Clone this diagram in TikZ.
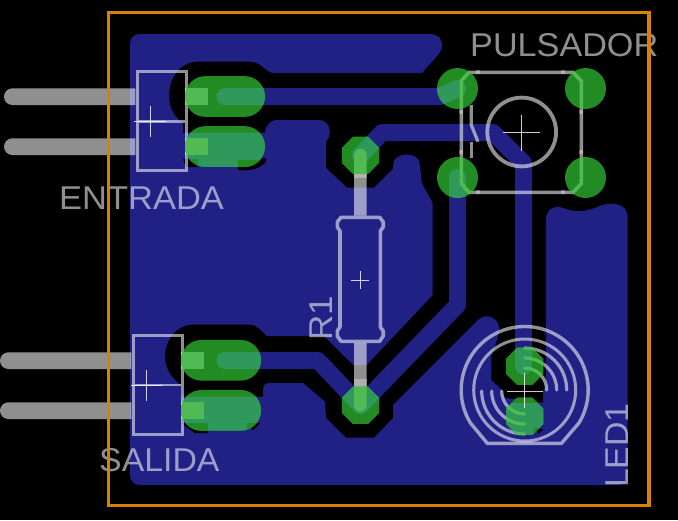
\documentclass[tikz,border=0pt]{standalone}
\usepackage{fontspec}
\usepackage{graphicx}
\setmainfont{Liberation Sans}
\definecolor{pourblue}{RGB}{33,33,133}
\definecolor{padgreen}{RGB}{35,139,35}
\definecolor{padteal}{RGB}{46,153,90}
\definecolor{silkgreen}{RGB}{82,186,82}
\definecolor{boardorange}{RGB}{217,128,0}
\tikzset{
  silkop/.style={opacity=.56},
  trk/.style={line width=17pt,line cap=round,line join=round},
  thk/.style={line width=3.6pt,line join=miter},
  crossmark/.style={line width=.9pt},
  silktext/.style={inner sep=0pt,font=\fontsize{33}{33}\selectfont,text=white,text opacity=.56},
}
% copper: #1 = colour
\newcommand{\copperall}[1]{%
  \fill[#1] (140,34) -- (430,34) .. controls (442,34) and (446,46) .. (438,55)
    -- (422,73) -- (273,73) .. controls (265,72) and (262,62) .. (250,61.7) -- (197,61.7)
    .. controls (180,62) and (169,78) .. (169,96) .. controls (169,108) and (175,118) .. (183,123)
    -- (183,132.7) -- (265,132.7) .. controls (266,125) and (270,120) .. (277,120) -- (318,120)
    .. controls (332,120) and (332,136) .. (326,141.7) -- (326,168) -- (347,187.7) -- (374,187.7) -- (393,169)
    -- (393,165) .. controls (393,151) and (420,151) .. (420,165) -- (421.7,183) -- (432.7,203)
    -- (432.7,295) -- (366.7,365) -- (353.3,365) -- (324,336) -- (267,336)
    .. controls (262,332) and (258,325) .. (250,324.5) -- (193,324.5)
    .. controls (176,325) and (165,340) .. (165,356.7) .. controls (165,368) and (171,378) .. (181,385)
    -- (181,396.7) -- (263,396.7) -- (263,390) .. controls (263,386) and (265,383) .. (269,383) -- (303,383)
    -- (325,401.7) -- (326,418) -- (346,437.7) -- (374,437.7) -- (393,418) -- (393,405) -- (478,320)
    .. controls (486,312) and (500,318) .. (499,330) -- (497,340) -- (491.3,356) -- (491.3,380) -- (500,388)
    -- (505,398) -- (543,402.7) -- (543,392) -- (545.7,386) -- (546,220)
    .. controls (546,206) and (558,205) .. (566,209) .. controls (576,212) and (586,212) .. (597,207)
    .. controls (610,201) and (627.7,202) .. (627.7,218) -- (627.7,475) .. controls (627.7,482) and (624,485) .. (618,485)
    -- (140,485) .. controls (134,485) and (130,481) .. (130,475) -- (130,44) .. controls (130,38) and (134,34) .. (140,34) -- cycle;
  \draw[#1,trk] (225,96.7) -- (440,96.7) -- (457.5,88.5);
  \draw[#1,trk] (225,360.5) -- (318,360.5) -- (360.5,405.3);
  \draw[#1,trk] (360.5,155.3) -- (382,132.5) -- (493,132.5) -- (523.5,163) -- (523.5,366.3);
  \draw[#1,trk] (457.5,177.5) -- (457.5,305) -- (360.5,405.3);
}
\newcommand{\silkall}[2]{% #1 colour, #2 extra options
  \begin{scope}[draw=#1,fill=#1,#2]
  % ENTRADA connector
  \fill (12.35,88.3) arc (-90:-270:8.35) -- (135.3,105) -- (135.3,88.3) -- cycle;
  \fill (12.35,138.3) arc (-90:-270:8.35) -- (135.3,155) -- (135.3,138.3) -- cycle;
  \fill (185,88.3) rectangle (208.3,105);
  \fill (185,138.3) rectangle (208.3,155);
  \draw[thk] (137.4,71.3) rectangle (186.6,170.6);
  \draw[line width=2.6pt] (139.2,121.7) -- (184.8,121.7);
  % SALIDA connector
  \fill (8.35,352.3) arc (-90:-270:8.35) -- (131.3,369) -- (131.3,352.3) -- cycle;
  \fill (8.35,402.3) arc (-90:-270:8.35) -- (131.3,419) -- (131.3,402.3) -- cycle;
  \fill (181,352.3) rectangle (204,369);
  \fill (181,402.3) rectangle (204,419);
  \draw[thk] (133.4,335.4) rectangle (182.6,434.6);
  \draw[line width=2.6pt] (135.2,385) -- (180.8,385);
  % R1
  \fill (354,215.5) -- (354,155) arc (180:360:6.35) -- (366.7,215.5) -- cycle;
  \fill (354,343) -- (354,405.3) arc (180:0:6.35) -- (366.7,343) -- cycle;
  \draw[thk,line join=round] (340,231) -- (337.3,227) -- (337.3,222) -- (341,217.3) -- (379.7,217.3) -- (383.2,222) -- (383.2,227) -- (380.3,231)
    -- (380.3,327) -- (383.2,331) -- (383.2,336) -- (379.7,341.3) -- (341,341.3) -- (337.3,336) -- (337.3,331) -- (340,327) -- cycle;
  % PULSADOR
  \draw[thk] (469,72.4) -- (573,72.4) -- (581.4,81) -- (581.4,183.5) -- (573,192.4) -- (469,192.4) -- (461.3,183.5) -- (461.3,81) -- cycle;
  \draw[line width=3.8pt] (521.7,132) circle (34.4);
  \draw[line width=3.2pt] (471.3,105) -- (471.3,125) -- (478,141.7);
  \draw[line width=3.2pt] (471.3,141.7) -- (471.3,158);
  % LED1
  \draw[thk,line width=3.4pt] (487.3,443.3) -- (561.5,443.3) -- (579,422.9) arc (31.2:-211.2:63.5) -- cycle;
  \draw[line width=3pt] (524.7,390) circle (51);
  \draw[line width=3.2pt,line cap=round] (524.7,348) arc (-90:0:42);
  \draw[line width=3.2pt,line cap=round] (524.7,358) arc (-90:0:32);
  \draw[line width=3.2pt,line cap=round] (524.7,368) arc (-90:0:22);
  \draw[line width=3.2pt,line cap=round] (481.7,391) arc (180:90:43);
  \draw[line width=3.2pt,line cap=round] (491.7,391) arc (180:90:33);
  \draw[line width=3.2pt,line cap=round] (501.7,391) arc (180:90:23);
  \end{scope}
}
\newcommand{\padclip}[1]{%
  \begin{scope}
    \clip #1;
    \fill[padgreen] (0,0) rectangle (678,520);
    \copperall{padteal}
    \fill[padgreen] (238,160) rectangle (266,168);
    \fill[padgreen] (183,159) -- (198,159) -- (198,168) -- (183,168) -- cycle;
    \fill[padgreen] (181,423) rectangle (208,432);
    \fill[padgreen] (247,423) rectangle (262,432);
    \fill[padgreen] (534,428) rectangle (544,436);
    \fill[padgreen] (505,385.5) rectangle (545,402.7);
    \silkall{silkgreen}{}
  \end{scope}%
}
\newcommand{\octpad}[2]{(#1-18.6,#2-7.7) -- (#1-7.7,#2-18.6) -- (#1+7.7,#2-18.6) -- (#1+18.6,#2-7.7) -- (#1+18.6,#2+7.7) -- (#1+7.7,#2+18.6) -- (#1-7.7,#2+18.6) -- (#1-18.6,#2+7.7) -- cycle}
\newcommand{\longpad}[2]{[rounded corners=20.3pt] (#1,#2-20.35) rectangle (#1+80,#2+20.35)}
\begin{document}
\begin{tikzpicture}[x=1pt,y=-1pt]
  \useasboundingbox (0,0) rectangle (678,520);
  \fill[black] (0,0) rectangle (678,520);
  \copperall{pourblue}
  % clearance slivers under the lower connector pads and the LED pad
  \fill[black] (238,160) -- (266,158) -- (266,162) .. controls (258,170) and (248,171) .. (238,170) -- cycle;
  \fill[black] (183,159) -- (188,158) -- (198,167) -- (186,167) -- cycle;
  \fill[black] (181,423) -- (208,423) -- (208,433) -- (195,433) -- cycle;
  \fill[black] (247,423) -- (260,423) -- (253,430) -- cycle;
  \fill[black] (537,429) -- (544,429) -- (538,434) -- cycle;
  % silkscreen over black and copper
  \silkall{white}{silkop}
  % brighter overlaps of the silkscreen
  \begin{scope}[fill=white,opacity=.3]
    \fill (354,174) rectangle (366.7,178.3);
    \fill (354,379) rectangle (366.7,386.7);
    \fill (476,70.4) rectangle (480,74.4);
    \fill (561,70.4) rectangle (565,74.4);
    \fill (476,190.4) rectangle (480,194.4);
    \fill (561,190.4) rectangle (565,194.4);
    \fill (459.3,110) rectangle (463.3,114);
    \fill (459.3,150) rectangle (463.3,154);
    \fill (579.4,110) rectangle (583.4,114);
    \fill (579.4,150) rectangle (583.4,154);
  \end{scope}
  % pads, with copper and silkscreen seen through them
  \padclip{\longpad{185}{96.5}}
  \padclip{\longpad{185}{146.5}}
  \padclip{\longpad{181}{360.3}}
  \padclip{\longpad{181}{410.3}}
  \padclip{\octpad{360.5}{155.3}}
  \padclip{\octpad{360.5}{405.3}}
  \padclip{\octpad{524.7}{366.3}}
  \padclip{\octpad{524.7}{416.3}}
  \padclip{(457.5,88.5) circle (20.5)}
  \padclip{(585.5,88.5) circle (20.5)}
  \padclip{(457.5,177.5) circle (20.5)}
  \padclip{(585.5,177.5) circle (20.5)}
  % origin crosses
  \begin{scope}[draw=white,opacity=.8,crossmark]
    \draw (134,121) -- (166,121); \draw (150.3,106) -- (150.3,136.7);
    \draw (131,385) -- (162,385); \draw (146.3,370) -- (146.3,401);
    \draw (351,280) -- (369,280); \draw (360.3,271) -- (360.3,289);
    \draw (503,132.3) -- (540,132.3); \draw (521.3,115) -- (521.3,150.7);
    \draw (506.7,391.3) -- (542.7,391.3); \draw (524.7,373) -- (524.7,408);
  \end{scope}
  % labels
  \node[silktext,anchor=base west] (pulsador) at (470,56.7) {\scalebox{1.036}[1]{PULSADOR}};
  \node[silktext,anchor=base west] (entrada) at (59,209) {\scalebox{1.045}[1]{ENTRADA}};
  \node[silktext,anchor=base west] (salida) at (99,471.7) {\scalebox{1.025}[1]{SALIDA}};
  \node[silktext,anchor=base west,rotate=90] (rone) at (332,341) {\scalebox{1.06}[1]{R1}};
  \node[silktext,anchor=base west,rotate=90] (ledone) at (628,488) {\scalebox{1.025}[1]{LED1}};
  % board outline
  \draw[boardorange,line width=3.6pt] (108.5,12.5) rectangle (649,505.5);
\end{tikzpicture}
\end{document}
